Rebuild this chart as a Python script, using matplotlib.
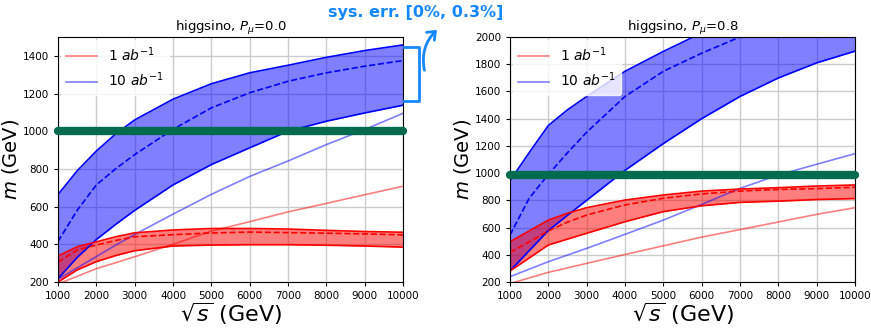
import numpy as np
import matplotlib.pyplot as plt
from matplotlib.patches import FancyArrowPatch

# sqrt(s) grid (GeV)
rs = [1000, 1500, 2000, 2500, 3000, 4000, 5000, 6000, 7000, 8000, 9000, 10000]

# P_mu = 0.0
p0_blue_hi  = [664, 790, 895, 985, 1060, 1170, 1252, 1310, 1350, 1392, 1428, 1458]
p0_blue_mid = [415, 580, 715, 800, 876, 1010, 1124, 1204, 1265, 1310, 1345, 1375]
p0_blue_lo  = [218, 330, 425, 505, 580, 715, 823, 912, 1000, 1053, 1097, 1138]
p0_blue_1   = [215, 275, 335, 395, 452, 560, 665, 760, 842, 929, 1009, 1095]
p0_red_hi   = [338, 387, 413, 440, 461, 476, 484, 484, 481, 474, 468, 464]
p0_red_mid  = [305, 370, 396, 420, 440, 451, 460, 465, 462, 459, 455, 450]
p0_red_lo   = [200, 264, 308, 340, 366, 391, 396, 398, 398, 395, 391, 385]
p0_red_1    = [190, 230, 271, 302, 334, 400, 470, 520, 572, 617, 663, 708]

# P_mu = 0.8
p8_blue_hi  = [945, 1150, 1350, 1465, 1563, 1748, 1894, 2030, 2140, 2230, 2300, 2360]
p8_blue_mid = [545, 815, 990, 1150, 1300, 1563, 1748, 1881, 2000, 2090, 2170, 2240]
p8_blue_lo  = [281, 430, 578, 690, 800, 1020, 1217, 1400, 1563, 1699, 1810, 1896]
p8_blue_1   = [239, 294, 349, 398, 447, 550, 655, 770, 888, 986, 1065, 1143]
p8_red_hi   = [496, 575, 655, 705, 746, 802, 839, 868, 883, 893, 905, 913]
p8_red_mid  = [418, 495, 575, 640, 692, 766, 815, 847, 868, 880, 886, 896]
p8_red_lo   = [281, 376, 472, 515, 558, 643, 717, 760, 785, 794, 806, 813]
p8_red_1    = [188, 230, 271, 304, 337, 402, 466, 530, 585, 641, 697, 746]

panels = [
    ("higgsino, $P_\\mu$=0.0", (200, 1500), 1000,
     p0_blue_hi, p0_blue_mid, p0_blue_lo, p0_blue_1,
     p0_red_hi, p0_red_mid, p0_red_lo, p0_red_1),
    ("higgsino, $P_\\mu$=0.8", (200, 2000), 985,
     p8_blue_hi, p8_blue_mid, p8_blue_lo, p8_blue_1,
     p8_red_hi, p8_red_mid, p8_red_lo, p8_red_1),
]

fig = plt.figure(figsize=(8.71, 3.30), dpi=100)
lefts = [58 / 871, 510 / 871]

for left, (title, ylim, gline, bh, bm, bl, b1, rh, rm, rl, r1) in zip(lefts, panels):
    ax = fig.add_axes([left, 48 / 330, 345 / 871, 245 / 330])
    ax.plot(rs, r1, color='red', alpha=0.5, lw=1.2, label='1 $ab^{-1}$')
    ax.plot(rs, b1, color='blue', alpha=0.5, lw=1.2, label='10 $ab^{-1}$')
    ax.fill_between(rs, bl, bh, color='blue', alpha=0.5, lw=0)
    ax.plot(rs, bh, color='blue', lw=1.2)
    ax.plot(rs, bl, color='blue', lw=1.2)
    ax.plot(rs, bm, color='blue', lw=1.2, ls='--')
    ax.fill_between(rs, rl, rh, color='red', alpha=0.5, lw=0)
    ax.plot(rs, rh, color='red', lw=1.2)
    ax.plot(rs, rl, color='red', lw=1.2)
    ax.plot(rs, rm, color='red', lw=1.2, ls='--')
    ax.axhline(gline, color='#036b4e', lw=6, solid_capstyle='round', clip_on=False, zorder=5)

    ax.set_xlim(1000, 10000)
    ax.set_ylim(*ylim)
    ax.set_xticks(np.arange(1000, 10001, 1000))
    ax.grid(True, color='#cccccc', lw=1)
    ax.set_axisbelow(True)
    ax.tick_params(labelsize=7.5, length=3)
    ax.set_title(title, fontsize=9.5, pad=3)
    ax.set_xlabel('$\\sqrt{s}$ (GeV)', fontsize=16, labelpad=0)
    ax.set_ylabel('$m$ (GeV)', fontsize=14, labelpad=1)
    ax.legend(loc='upper left', fontsize=10, borderaxespad=0.2,
              handlelength=2.2, framealpha=0.8, edgecolor='white')

# sys. err. annotation
ann = '#1688ff'
fig.text(416 / 871, 1 - 13 / 330, 'sys. err. [0%, 0.3%]', color=ann,
         fontsize=11.5, fontweight='bold', ha='center', va='center')
bx = [404 / 871, 418.5 / 871, 418.5 / 871, 404 / 871]
by = [1 - 47 / 330, 1 - 47 / 330, 1 - 101 / 330, 1 - 101 / 330]
fig.add_artist(plt.Line2D(bx, by, color=ann, lw=2, transform=fig.transFigure))
arr = FancyArrowPatch((425 / 871, 1 - 73 / 330), (439 / 871, 1 - 28 / 330),
                      transform=fig.transFigure, connectionstyle='arc3,rad=-0.3',
                      arrowstyle='->,head_length=5,head_width=4', color=ann, lw=2)
fig.add_artist(arr)

fig.savefig('out.png', dpi=100)
